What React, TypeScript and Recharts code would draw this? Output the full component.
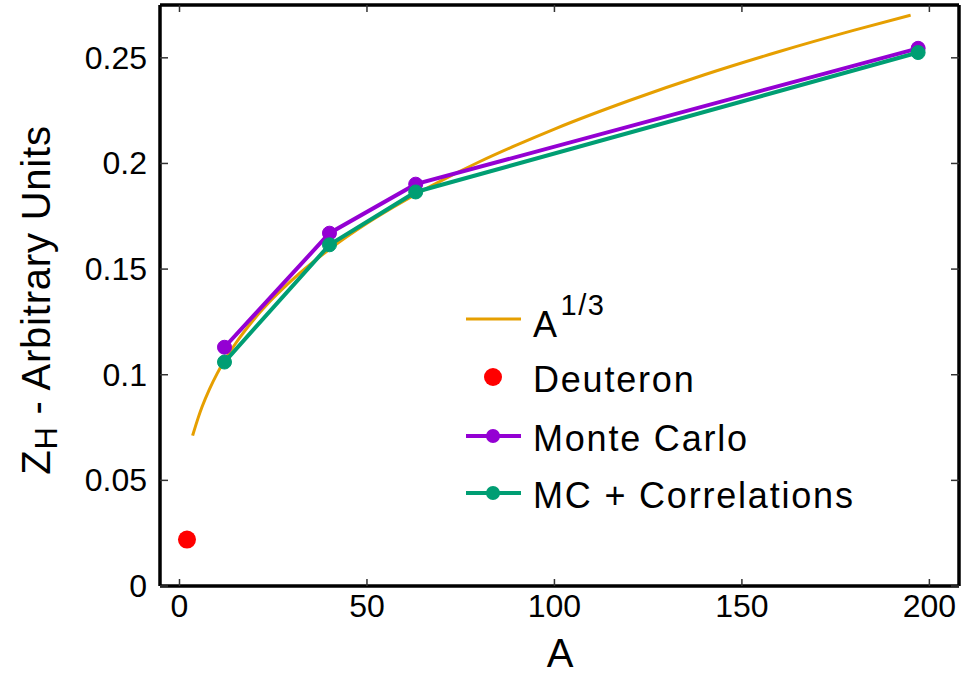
import React from "react"
import { ComposedChart, Line, Scatter, XAxis, YAxis, Legend, Label } from "recharts"

// A^(1/3) reference curve
const curveA = [3.5, 5, 6, 8, 10, 12, 15, 20, 25, 30, 40, 50, 60, 70, 80, 90, 100, 120, 140, 160, 180, 195]
const curveZ = [
  0.0712, 0.0797, 0.0847, 0.0932, 0.1004, 0.1067, 0.1149, 0.1265, 0.1363, 0.1448, 0.1594, 0.1717, 0.1824, 0.192,
  0.2008, 0.2088, 0.2163, 0.2298, 0.242, 0.253, 0.2631, 0.2702,
]

// nuclei: C, Ca, Cu, Au
const nucleiA = [12, 40, 63, 197]
const monteCarlo = [0.113, 0.167, 0.1902, 0.2545]
const mcCorrelations = [0.106, 0.1615, 0.1865, 0.2525]

const deuteronA = [2]
const deuteronZ = [0.022]

const xTicks = [0, 50, 100, 150, 200]
const yTicks = [0, 0.05, 0.1, 0.15, 0.2, 0.25]
const yTickLabels = ["0", "0.05", "0.1", "0.15", "0.2", "0.25"]

const legendOrder = ["A^1/3", "Deuteron", "Monte Carlo", "MC + Correlations"]

const curveData = curveA.map((a, i) => ({ a, z: curveZ[i] }))
const mcData = nucleiA.map((a, i) => ({ a, z: monteCarlo[i] }))
const mccData = nucleiA.map((a, i) => ({ a, z: mcCorrelations[i] }))
const deuteronData = deuteronA.map((a, i) => ({ a, z: deuteronZ[i] }))

const FONT = "'Liberation Sans', Arial, Helvetica, sans-serif"
const ORANGE = "#E69F00"
const PURPLE = "#9400D3"
const GREEN = "#009E73"
const RED = "#FF0000"
const TICK = "#333"

const BottomTick = (props: any) => {
  const { x, y, payload } = props
  return (
    <g>
      <line x1={x} x2={x} y1={y} y2={y - 7} stroke={TICK} strokeWidth={1.5} />
      <text x={x} y={y + 31} textAnchor="middle" fontSize={32} fontFamily={FONT} fill="#000">
        {payload.value}
      </text>
    </g>
  )
}

const TopTick = (props: any) => {
  const { x, y } = props
  return <line x1={x} x2={x} y1={y} y2={y + 7} stroke={TICK} strokeWidth={1.5} />
}

const LeftTick = (props: any) => {
  const { x, y, payload, index } = props
  return (
    <g>
      <line x1={x} x2={x + 8} y1={y} y2={y} stroke={TICK} strokeWidth={1.5} />
      <text x={x - 13} y={y + 11} textAnchor="end" fontSize={32} fontFamily={FONT} fill="#000">
        {yTickLabels[index] ?? payload.value}
      </text>
    </g>
  )
}

const RightTick = (props: any) => {
  const { x, y } = props
  return <line x1={x} x2={x - 8} y1={y} y2={y} stroke={TICK} strokeWidth={1.5} />
}

const LegendBox = (props: any) => {
  const payload = props.payload || []
  const rows = [29, 87, 146, 203]
  return (
    <svg width={440} height={230} style={{ overflow: "visible" }}>
      {legendOrder.map((name, i) => {
        const entry = payload.find((p: any) => p.value === name)
        if (!entry) return null
        const cy = rows[i]
        const color = entry.color
        const hasLine = name !== "Deuteron"
        const hasDot = name !== "A^1/3"
        return (
          <g key={name}>
            {hasLine && <line x1={26} x2={81} y1={cy} y2={cy} stroke={color} strokeWidth={name === "A^1/3" ? 3 : 4} />}
            {hasDot && <circle cx={53} cy={cy} r={name === "Deuteron" ? 9 : 7} fill={color} />}
            {name === "A^1/3" ? (
              <text x={93} y={cy + 18} fontSize={36} fontFamily={FONT} fill="#000" letterSpacing={1.5}>
                A
                <tspan dx={2} dy={-22} fontSize={29}>
                  1/3
                </tspan>
              </text>
            ) : (
              <text x={93} y={cy + 15} fontSize={36} fontFamily={FONT} fill="#000" letterSpacing={1.8}>
                {name}
              </text>
            )}
          </g>
        )
      })}
    </svg>
  )
}

export default function App() {
  return (
    <div style={{ position: "absolute", left: 0, top: 0, background: "#fff" }}>
      <ComposedChart width={969} height={677} margin={{ top: 4, right: 9, bottom: 90, left: 159 }}>
        <XAxis
          xAxisId="b"
          dataKey="a"
          type="number"
          domain={[-5.2, 207.9]}
          allowDataOverflow
          ticks={xTicks}
          interval={0}
          height={1}
          tickSize={0}
          tickMargin={0}
          tickLine={false}
          tick={<BottomTick />}
          axisLine={{ stroke: "#000", strokeWidth: 3.5 }}
        >
          <Label
            content={() => (
              <text x={560} y={667} textAnchor="middle" fontSize={40} fontFamily={FONT} fill="#000">
                A
              </text>
            )}
          />
        </XAxis>
        <XAxis
          xAxisId="t"
          orientation="top"
          dataKey="a"
          type="number"
          domain={[-5.2, 207.9]}
          allowDataOverflow
          ticks={xTicks}
          interval={0}
          height={1}
          tickSize={0}
          tickMargin={0}
          tickLine={false}
          tick={<TopTick />}
          axisLine={{ stroke: "#000", strokeWidth: 3.5 }}
        />
        <YAxis
          yAxisId="l"
          dataKey="z"
          type="number"
          domain={[0, 0.275]}
          allowDataOverflow
          ticks={yTicks}
          interval={0}
          width={1}
          tickSize={0}
          tickMargin={0}
          tickLine={false}
          tick={<LeftTick />}
          axisLine={{ stroke: "#000", strokeWidth: 3.5 }}
        >
          <Label
            content={() => (
              <text
                x={50}
                y={300}
                transform="rotate(-90 50 300)"
                textAnchor="middle"
                fontSize={40}
                fontFamily={FONT}
                fill="#000"
                letterSpacing={0.8}
              >
                Z
                <tspan fontSize={31} dy={7}>
                  H
                </tspan>
                <tspan dy={-7}> - Arbitrary Units</tspan>
              </text>
            )}
          />
        </YAxis>
        <YAxis
          yAxisId="r"
          orientation="right"
          dataKey="z"
          type="number"
          domain={[0, 0.275]}
          allowDataOverflow
          ticks={yTicks}
          interval={0}
          width={1}
          tickSize={0}
          tickMargin={0}
          tickLine={false}
          tick={<RightTick />}
          axisLine={{ stroke: "#000", strokeWidth: 3.5 }}
        />
        <Legend
          layout="vertical"
          align="center"
          verticalAlign="middle"
          wrapperStyle={{ position: "absolute", left: 440, top: 290, width: 440, height: 230 }}
          content={<LegendBox />}
        />
        <Line
          xAxisId="b"
          yAxisId="l"
          data={curveData}
          dataKey="z"
          name="A^1/3"
          type="monotone"
          stroke={ORANGE}
          strokeWidth={3}
          dot={false}
          activeDot={false}
          isAnimationActive={false}
        />
        <Scatter
          xAxisId="b"
          yAxisId="l"
          data={deuteronData}
          dataKey="z"
          name="Deuteron"
          fill={RED}
          shape={(p: any) => <circle cx={p.cx} cy={p.cy} r={9} fill={RED} />}
          isAnimationActive={false}
        />
        <Line
          xAxisId="b"
          yAxisId="l"
          data={mcData}
          dataKey="z"
          name="Monte Carlo"
          type="linear"
          stroke={PURPLE}
          strokeWidth={4}
          dot={{ r: 7, fill: PURPLE, stroke: PURPLE, strokeWidth: 1 }}
          activeDot={false}
          isAnimationActive={false}
        />
        <Line
          xAxisId="b"
          yAxisId="l"
          data={mccData}
          dataKey="z"
          name="MC + Correlations"
          type="linear"
          stroke={GREEN}
          strokeWidth={4}
          dot={{ r: 7, fill: GREEN, stroke: GREEN, strokeWidth: 1 }}
          activeDot={false}
          isAnimationActive={false}
        />
      </ComposedChart>
    </div>
  )
}
